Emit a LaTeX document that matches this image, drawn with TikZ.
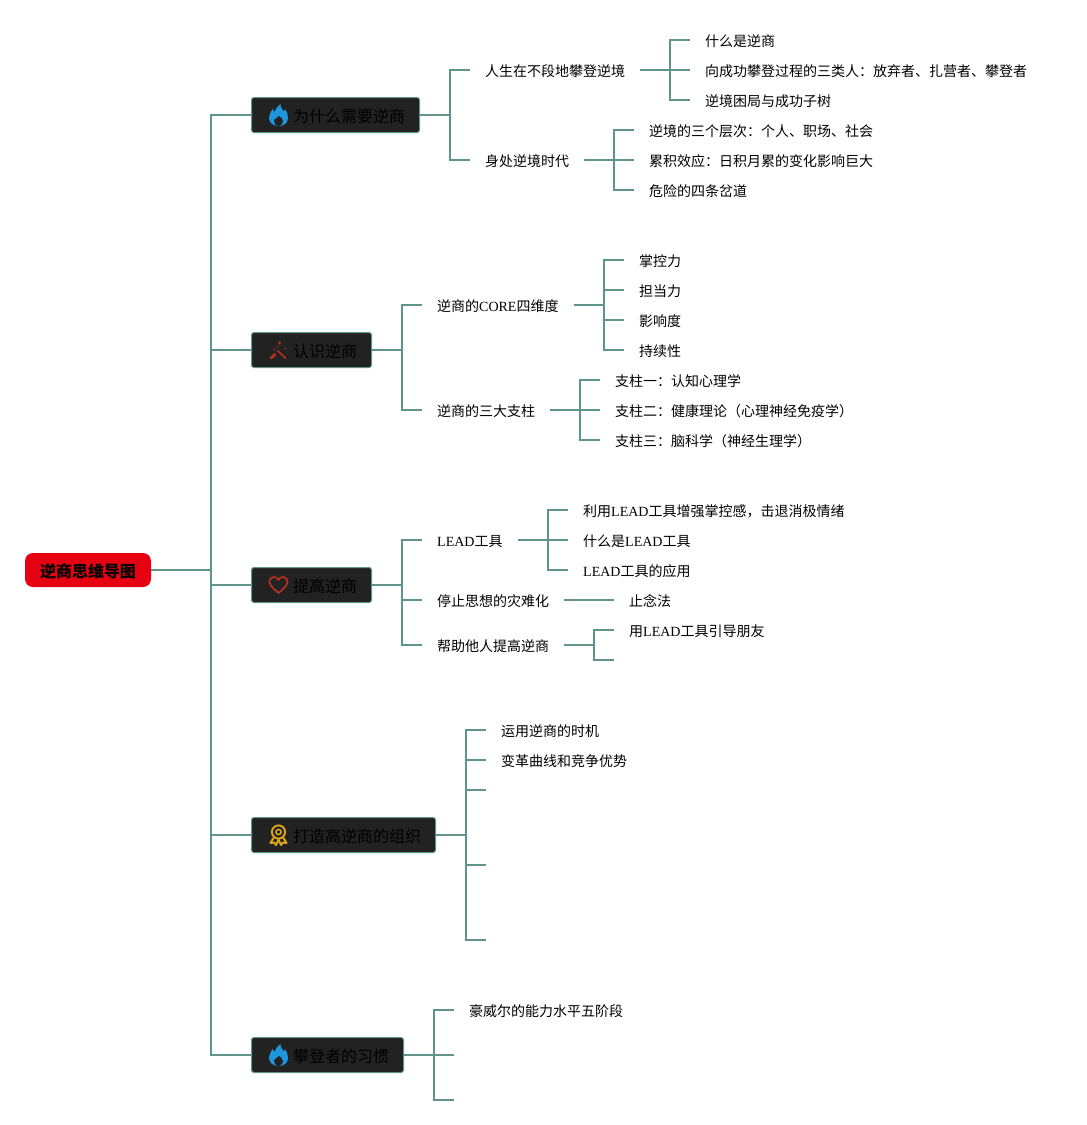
\documentclass[tikz,border=0pt]{standalone}
\usepackage{fontspec}
\newfontfamily\cjk{Noto Sans CJK SC}
\newfontfamily\latf{Liberation Serif}
\definecolor{linkc}{HTML}{5F9488}
\definecolor{boxc}{HTML}{222222}
\definecolor{rootc}{HTML}{E60012}
\definecolor{flamec}{HTML}{1E96DC}
\definecolor{iconred}{HTML}{B83020}
\definecolor{iconyel}{HTML}{DDA51E}
\newcommand\lat[1]{{\latf #1}}
\newcommand\linkto[3]{\draw[conn] (#1.east) -- (#2 |- #1.east) |- (#3.west);}
\tikzset{
  conn/.style={draw=linkc,line width=2pt},
  rootbox/.style={fill=rootc,rounded corners=8pt,minimum width=126pt,minimum height=34pt,inner sep=0pt,
    text height=15pt,text depth=1pt,font=\cjk\bfseries\fontsize{16}{18}\selectfont,text=black},
  topicbox/.style={fill=boxc,draw=linkc,line width=1pt,rounded corners=2.5pt,anchor=west,minimum height=35pt,
    inner xsep=14.5pt,inner ysep=0pt,text height=15pt,text depth=1pt,font=\cjk\fontsize{16}{18}\selectfont,text=black},
  leaf/.style={anchor=west,inner xsep=15pt,inner ysep=0pt,text height=14.5pt,text depth=1.5pt,
    font=\cjk\fontsize{14}{16}\selectfont,text=black},
  flameicon/.pic={
    \fill[flamec] (0,11) .. controls (-6,11) and (-9.5,7) .. (-9.5,2.5) .. controls (-9.5,-1) and (-7,-3) .. (-6,-6)
      .. controls (-5,-4.5) and (-4.5,-3.5) .. (-4,-3) .. controls (-3,-6) and (-1,-9) .. (2,-11)
      .. controls (2,-7) and (4,-5) .. (5.5,-3.5) .. controls (6,-4.5) and (6.5,-5) .. (6.5,-6)
      .. controls (8.5,-3) and (9.5,0) .. (9.5,3) .. controls (9.5,7.5) and (6,11) .. (0,11) -- cycle;
    \fill[boxc] (0,11.2) .. controls (3,11.2) and (4.5,8) .. (4.5,6) .. controls (4.5,3.5) and (2,2.5) .. (0.5,1)
      .. controls (-0.5,3) and (-4.5,3.5) .. (-4.5,6) .. controls (-4.5,8) and (-3,11.2) .. (0,11.2) -- cycle;
  },
  wandicon/.pic={
    \draw[iconred,line width=2.6pt] (-8,8) -- (-3,3.5);
    \draw[iconred,line width=1.6pt] (-1,0) -- (7.5,8);
    \fill[iconred] (1,-7.5) circle (1.6pt) (-4,-1) circle (1pt) (7,-2) circle (1pt) (-1,-4) circle (0.8pt);
  },
  hearticon/.pic={
    \draw[iconred,line width=1.7pt,line join=round] (0,8) .. controls (-3,5) and (-9,1) .. (-9,-3)
      .. controls (-9,-6.5) and (-6.5,-8) .. (-4.5,-8) .. controls (-2.5,-8) and (-1,-7) .. (0,-5)
      .. controls (1,-7) and (2.5,-8) .. (4.5,-8) .. controls (6.5,-8) and (9,-6.5) .. (9,-3)
      .. controls (9,1) and (3,5) .. (0,8) -- cycle;
  },
  medalicon/.pic={
    \draw[iconyel,line width=1.9pt] (0,-3) circle (6.6pt);
    \draw[iconyel,line width=1.5pt] (0,-3) circle (2.6pt);
    \draw[iconyel,line width=2pt,line join=round] (-5,3) -- (-8,8) -- (-4.5,7.5) -- (-2.5,10) -- (0,4.5) -- (2.5,10) -- (4.5,7.5) -- (8,8) -- (5,3);
  }
}
\begin{document}
\begin{tikzpicture}[x=1pt,y=-1pt]
\useasboundingbox (0,0) rectangle (1087,1125);
% root
\node[rootbox] (root) at (88,570) {逆商思维导图};
% spines
\coordinate (s0) at (211,0);
\coordinate (s1) at (450,0);
\coordinate (s11) at (670,0);
\coordinate (s12) at (614,0);
\coordinate (s2) at (402,0);
\coordinate (s21) at (604,0);
\coordinate (s22) at (580,0);
\coordinate (s3) at (402,0);
\coordinate (s31) at (548,0);
\coordinate (s33) at (594,0);
\coordinate (s4) at (466,0);
\coordinate (s5) at (434,0);
% topics
\node[topicbox] (t1) at (251,115) {\hspace*{27pt}为什么需要逆商};
\node[topicbox] (t2) at (251,350) {\hspace*{27pt}认识逆商};
\node[topicbox] (t3) at (251,585) {\hspace*{27pt}提高逆商};
\node[topicbox] (t4) at (251,835) {\hspace*{27pt}打造高逆商的组织};
\node[topicbox] (t5) at (251,1055) {\hspace*{27pt}攀登者的习惯};
\pic at (278.5,115) {flameicon};
\pic at (278.5,350.5) {wandicon};
\pic at (278.5,585) {hearticon};
\pic at (278.5,835) {medalicon};
\pic at (278.5,1055) {flameicon};
% topic 1
\node[leaf] (a) at (470,70) {人生在不段地攀登逆境};
\node[leaf] (a1) at (690,40) {什么是逆商};
\node[leaf] (a2) at (690,70) {向成功攀登过程的三类人：放弃者、扎营者、攀登者};
\node[leaf] (a3) at (690,100) {逆境困局与成功子树};
\node[leaf] (b) at (470,160) {身处逆境时代};
\node[leaf] (b1) at (634,130) {逆境的三个层次：个人、职场、社会};
\node[leaf] (b2) at (634,160) {累积效应：日积月累的变化影响巨大};
\node[leaf] (b3) at (634,190) {危险的四条岔道};
% topic 2
\node[leaf] (c) at (422,305) {逆商的\lat{CORE}四维度};
\node[leaf] (c1) at (624,260) {掌控力};
\node[leaf] (c2) at (624,290) {担当力};
\node[leaf] (c3) at (624,320) {影响度};
\node[leaf] (c4) at (624,350) {持续性};
\node[leaf] (d) at (422,410) {逆商的三大支柱};
\node[leaf] (d1) at (600,380) {支柱一：认知心理学};
\node[leaf] (d2) at (600,410) {支柱二：健康理论（心理神经免疫学）};
\node[leaf] (d3) at (600,440) {支柱三：脑科学（神经生理学）};
% topic 3
\node[leaf] (e) at (422,540) {\lat{LEAD}工具};
\node[leaf] (e1) at (568,510) {利用\lat{LEAD}工具增强掌控感，击退消极情绪};
\node[leaf] (e2) at (568,540) {什么是\lat{LEAD}工具};
\node[leaf] (e3) at (568,570) {\lat{LEAD}工具的应用};
\node[leaf] (f) at (422,600) {停止思想的灾难化};
\node[leaf] (f1) at (614,600) {止念法};
\node[leaf] (g) at (422,645) {帮助他人提高逆商};
\node[leaf] (g1) at (614,630) {用\lat{LEAD}工具引导朋友};
\coordinate (g2) at (614,660);
% topic 4
\node[leaf] (h1) at (486,730) {运用逆商的时机};
\node[leaf] (h2) at (486,760) {变革曲线和竞争优势};
\coordinate (h3) at (486,790);
\coordinate (h4) at (486,865);
\coordinate (h5) at (486,940);
% topic 5
\node[leaf] (i1) at (454,1010) {豪威尔的能力水平五阶段};
\coordinate (i2) at (454,1055);
\coordinate (i3) at (454,1100);
% connectors
\foreach \t in {t1,t2,t3,t4,t5} {\linkto{root}{s0}{\t}}
\foreach \c in {a,b} {\linkto{t1}{s1}{\c}}
\foreach \c in {a1,a2,a3} {\linkto{a}{s11}{\c}}
\foreach \c in {b1,b2,b3} {\linkto{b}{s12}{\c}}
\foreach \c in {c,d} {\linkto{t2}{s2}{\c}}
\foreach \c in {c1,c2,c3,c4} {\linkto{c}{s21}{\c}}
\foreach \c in {d1,d2,d3} {\linkto{d}{s22}{\c}}
\foreach \c in {e,f,g} {\linkto{t3}{s3}{\c}}
\foreach \c in {e1,e2,e3} {\linkto{e}{s31}{\c}}
\draw[conn] (f.east) -- (f1.west);
\draw[conn] (g.east) -- (s33 |- g.east) |- (g1.west);
\draw[conn] (g.east) -- (s33 |- g.east) |- (g2);
\foreach \c in {h1,h2} {\linkto{t4}{s4}{\c}}
\foreach \c in {h3,h4,h5} {\draw[conn] (t4.east) -- (s4 |- t4.east) |- (\c);}
\draw[conn] (t5.east) -- (s5 |- t5.east) |- (i1.west);
\draw[conn] (t5.east) -- (i2);
\draw[conn] (t5.east) -- (s5 |- t5.east) |- (i3);
\end{tikzpicture}
\end{document}
